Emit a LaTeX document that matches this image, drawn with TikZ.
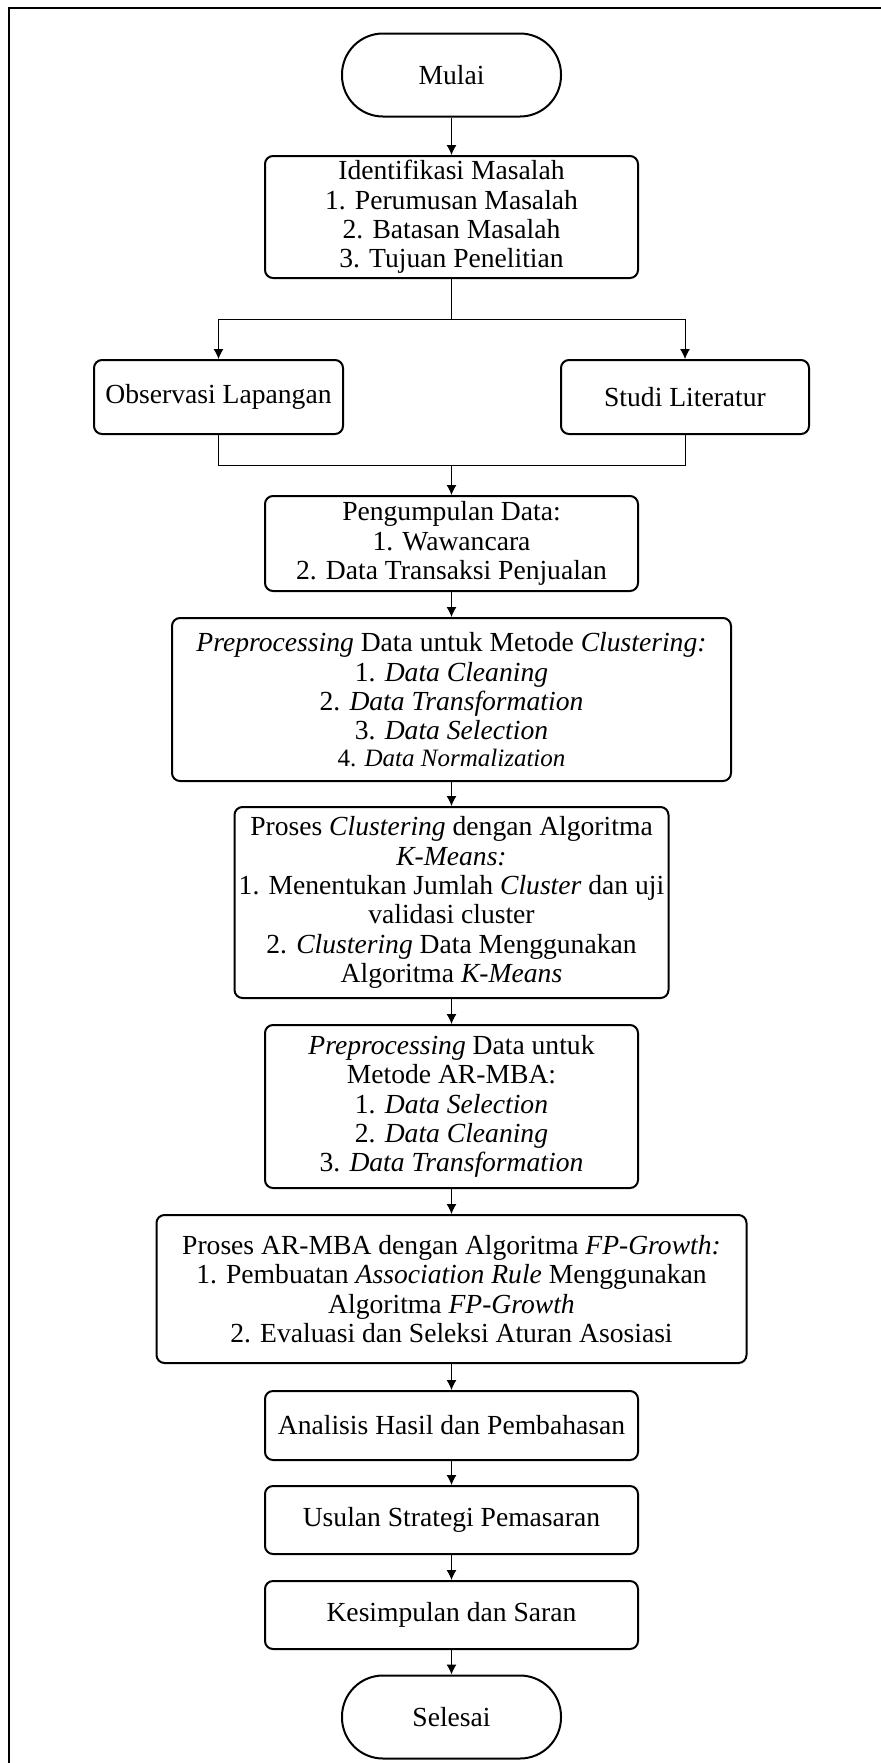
\documentclass[tikz,border=0pt]{standalone}
\usepackage{fontspec}
\setmainfont{Liberation Serif}
\usetikzlibrary{arrows.meta}
\begin{document}
\begin{tikzpicture}[x=0.5pt,y=-0.5pt,
  box/.style={draw,line width=1pt,rounded corners=4pt,align=center,inner sep=0pt,
    font=\fontsize{13.8pt}{14.7pt}\selectfont},
  term/.style={draw,line width=1pt,rounded corners=20.5pt,align=center,inner sep=0pt,
    minimum width=109.5pt,minimum height=41.5pt,font=\fontsize{13.8pt}{14.7pt}\selectfont},
  conn/.style={line width=0.5pt,-{Latex[length=5pt,width=5pt]}},
  plain/.style={line width=0.5pt},
  frame/.style={line width=1pt}]
\useasboundingbox (0,0) rectangle (881,1763);
\draw[frame] (8.5,1763) -- (8.5,7.5) -- (881,7.5);

\node[term] (mulai) at (451.5,75) {Mulai};
\node[box,minimum width=186.5pt,minimum height=61pt] (ident) at (451.5,217)
  {Identifikasi Masalah\\1. Perumusan Masalah\\2. Batasan Masalah\\3. Tujuan Penelitian};
\node[box,minimum width=124.5pt,minimum height=37pt] (obs) at (218.5,397) {Observasi Lapangan};
\node[box,minimum width=124pt,minimum height=37pt] (studi) at (685,397) {Studi Literatur};
\node[box,minimum width=186.5pt,minimum height=47.5pt] (kumpul) at (451.5,543.5)
  {Pengumpulan Data:\\1. Wawancara\\2. Data Transaksi Penjualan};
\node[box,minimum width=279.5pt,minimum height=81.5pt] (prep1) at (451.5,699.5)
  {\textit{Preprocessing} Data untuk Metode \textit{Clustering:}\\1. \textit{Data Cleaning}\\2. \textit{Data Transformation}\\3. \textit{Data Selection}\\[-1.5pt]{\fontsize{12.5pt}{14pt}\selectfont 4. \textit{Data Normalization}}};
\node[box,minimum width=217pt,minimum height=95.5pt] (kmeans) at (451.5,902.5)
  {Proses \textit{Clustering} dengan Algoritma\\\textit{K-Means:}\\1. Menentukan Jumlah \textit{Cluster} dan uji\\validasi cluster\\2. \textit{Clustering} Data Menggunakan\\Algoritma \textit{K-Means}};
\node[box,minimum width=186.5pt,minimum height=81.5pt] (prep2) at (451.5,1106.5)
  {\textit{Preprocessing} Data untuk\\Metode AR-MBA:\\1. \textit{Data Selection}\\2. \textit{Data Cleaning}\\3. \textit{Data Transformation}};
\node[box,minimum width=295pt,minimum height=74pt] (fp) at (451.5,1289)
  {Proses AR-MBA dengan Algoritma \textit{FP-Growth:}\\1. Pembuatan \textit{Association Rule} Menggunakan\\Algoritma \textit{FP-Growth}\\2. Evaluasi dan Seleksi Aturan Asosiasi};
\node[box,minimum width=186.5pt,minimum height=34.5pt] (analisis) at (451.5,1425.5) {Analisis Hasil dan Pembahasan};
\node[box,minimum width=186.5pt,minimum height=34pt] (usulan) at (451.5,1520) {Usulan Strategi Pemasaran};
\node[box,minimum width=186.5pt,minimum height=34pt] (kesimpulan) at (451.5,1615) {Kesimpulan dan Saran};
\node[term] (selesai) at (451.5,1717) {Selesai};

\coordinate (bt) at (451.5,319);
\coordinate (mg) at (451.5,465);

\draw[conn] (mulai) -- (ident);
\draw[plain] (ident) -- (bt);
\draw[conn] (bt) -| (obs);
\draw[conn] (bt) -| (studi);
\draw[plain] (obs) |- (mg);
\draw[plain] (studi) |- (mg);
\draw[conn] (mg) -- (kumpul);
\draw[conn] (kumpul) -- (prep1);
\draw[conn] (prep1) -- (kmeans);
\draw[conn] (kmeans) -- (prep2);
\draw[conn] (prep2) -- (fp);
\draw[conn] (fp) -- (analisis);
\draw[conn] (analisis) -- (usulan);
\draw[conn] (usulan) -- (kesimpulan);
\draw[conn] (kesimpulan) -- (selesai);
\end{tikzpicture}
\end{document}
